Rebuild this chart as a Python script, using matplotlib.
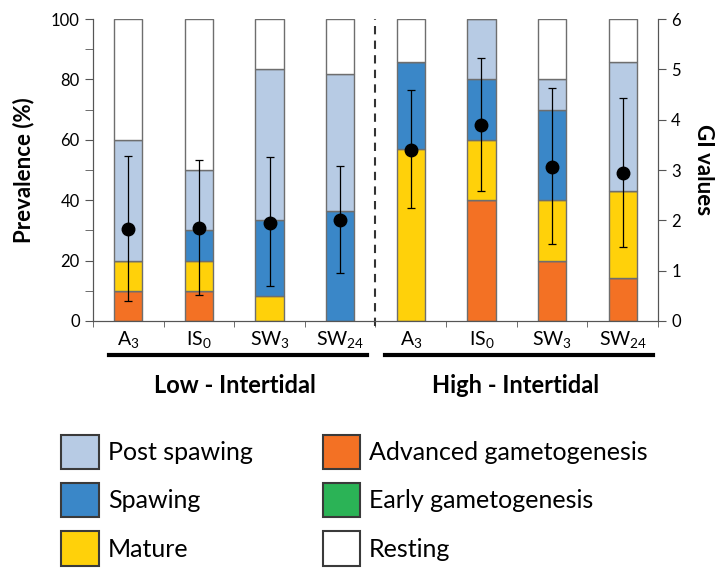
import matplotlib
matplotlib.use('Agg')
import matplotlib.pyplot as plt
from matplotlib.patches import Patch
import numpy as np

plt.rcParams['font.family'] = ['Lato', 'DejaVu Sans']
plt.rcParams['mathtext.default'] = 'regular'

# Datos (porcentaje de cada estadio por grupo)
groups = ['Low - Intertidal', 'High - Intertidal']
tick_labels = [r'$\mathregular{A_3}$', r'$\mathregular{IS_0}$', r'$\mathregular{SW_3}$', r'$\mathregular{SW_{24}}$',
               r'$\mathregular{A_3}$', r'$\mathregular{IS_0}$', r'$\mathregular{SW_3}$', r'$\mathregular{SW_{24}}$']
advanced = [10, 10, 0, 0, 0, 40, 20, 14.3]
early = [0, 0, 0, 0, 0, 0, 0, 0]
mature = [10, 10, 8.3, 0, 57.1, 20, 20, 28.6]
spawing = [0, 10, 25, 36.4, 28.6, 20, 30, 0]
post_spawing = [40, 20, 50, 45.4, 0, 20, 10, 42.8]
resting = [40, 50, 16.7, 18.2, 14.3, 0, 20, 14.3]

# Indice gonadal (media, limite inferior y superior)
gi_mean = [1.82, 1.84, 1.95, 2.0, 3.40, 3.89, 3.06, 2.95]
gi_low = [0.40, 0.52, 0.70, 0.96, 2.24, 2.59, 1.52, 1.48]
gi_high = [3.28, 3.20, 3.25, 3.07, 4.59, 5.22, 4.62, 4.44]

colors = {'Post spawing': '#B7CBE4', 'Spawing': '#3A87C8', 'Mature': '#FFD10A',
          'Advanced gametogenesis': '#F37124', 'Early gametogenesis': '#2BB356', 'Resting': '#FFFFFF'}

stack = [('Advanced gametogenesis', advanced), ('Early gametogenesis', early), ('Mature', mature),
         ('Spawing', spawing), ('Post spawing', post_spawing), ('Resting', resting)]

x = np.arange(len(tick_labels))

fig = plt.figure(figsize=(7.23, 5.74), dpi=100)
ax = fig.add_axes([0.1286, 0.4408, 0.7815, 0.526])

bottom = np.zeros(len(x))
for name, vals in stack:
    vals = np.array(vals, dtype=float)
    ax.bar(x, vals, width=0.4, bottom=bottom, color=colors[name],
           edgecolor='#6e6e6e', linewidth=1.0, zorder=2)
    bottom += vals

ax.set_xlim(-0.5, 7.5)
ax.set_ylim(0, 100)
ax.set_yticks(np.arange(0, 101, 20))
ax.set_yticks(np.arange(0, 101, 10), minor=True)
ax.set_xticks(x)
ax.set_xticklabels(tick_labels, fontsize=14)
ax.set_xticks(np.arange(-0.5, 7.6, 1), minor=True)
ax.tick_params(axis='x', which='major', length=0, pad=6)
ax.tick_params(axis='x', which='minor', length=4, color='#555555')
ax.tick_params(axis='y', which='both', length=6, color='#555555', labelsize=12)
ax.set_ylabel('Prevalence (%)', fontsize=16, fontweight='bold', labelpad=12)
ax.spines['top'].set_visible(False)
for s in ['left', 'bottom', 'right']:
    ax.spines[s].set_color('#555555')

# linea discontinua entre grupos
ax.plot([3.5, 3.5], [-1.5, 100], color='#333333', linestyle=(0, (4, 3)), linewidth=1.5,
        clip_on=False, zorder=3)

# segundo eje: valores GI
ax2 = ax.twinx()
ax2.set_ylim(0, 6)
ax2.set_yticks(np.arange(0, 7, 1))
ax2.tick_params(axis='y', length=6, color='#555555', labelsize=12)
ax2.spines['top'].set_visible(False)
for s in ['left', 'bottom', 'right']:
    ax2.spines[s].set_color('#555555')
ax2.set_ylabel('GI values', fontsize=16, fontweight='bold', rotation=270, labelpad=24)
gi_mean = np.array(gi_mean)
yerr = [gi_mean - np.array(gi_low), np.array(gi_high) - gi_mean]
ax2.errorbar(x, gi_mean, yerr=yerr, fmt='o', color='black', markersize=9,
             ecolor='black', elinewidth=0.9, capsize=3, capthick=0.9, zorder=4)

# lineas y nombres de grupo
trans = ax.get_xaxis_transform()
group_spans = [(-0.27, 3.38), (3.64, 7.43)]
for (a, b), g in zip(group_spans, groups):
    ax.plot([a, b], [-0.113, -0.113], color='black', linewidth=3, transform=trans, clip_on=False)
    ax.text((a + b) / 2 - 0.05, -0.215, g, transform=trans, ha='center', va='center',
            fontsize=17, fontweight='bold')

# leyenda
order = ['Post spawing', 'Spawing', 'Mature', 'Advanced gametogenesis', 'Early gametogenesis', 'Resting']
handles = [Patch(facecolor=colors[n], edgecolor='#3a3a3a', linewidth=1.5, label=n) for n in order]
fig.legend(handles=handles, loc='upper left', bbox_to_anchor=(0.085, 0.243), ncol=2,
           frameon=False, fontsize=18, handlelength=1.5, handleheight=1.75,
           handletextpad=0.35, labelspacing=0.55, columnspacing=2.8,
           borderpad=0, borderaxespad=0)

fig.savefig('out.png', dpi=100)
